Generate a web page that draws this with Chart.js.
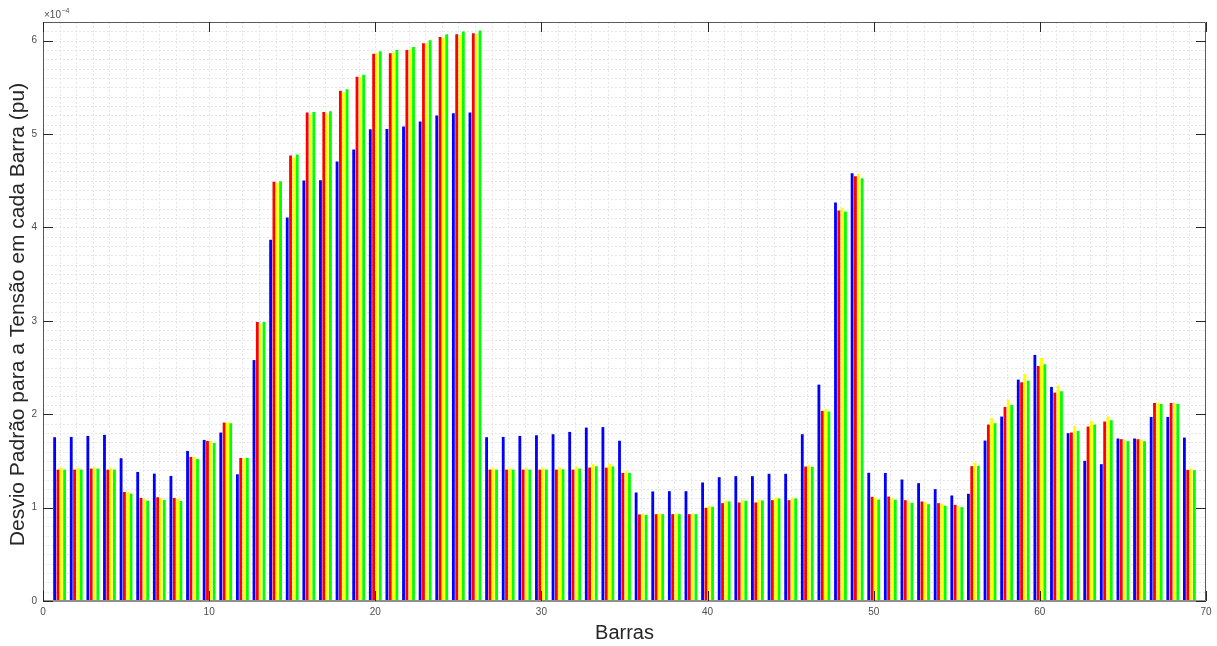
<!DOCTYPE html>
<html>
<head>
<meta charset="utf-8">
<script src="https://cdn.jsdelivr.net/npm/chart.js@4/dist/chart.umd.min.js"></script>
<style>
  html, body { margin: 0; padding: 0; background: #ffffff; }
  #wrap { width: 1217px; height: 646px; }
</style>
</head>
<body>
<div id="wrap"><canvas id="c" width="1217" height="646"></canvas></div>
<script>
// Bus numbers (categories)
const barras = [1,2,3,4,5,6,7,8,9,10,11,12,13,14,15,16,17,18,19,20,21,22,23,24,25,26,27,28,29,30,
  31,32,33,34,35,36,37,38,39,40,41,42,43,44,45,46,47,48,49,50,51,52,53,54,55,56,57,58,59,60,
  61,62,63,64,65,66,67,68,69];

// Standard deviation values, in units of 1e-4 pu
const serieAzul = [1.754,1.757,1.768,1.779,1.529,1.382,1.364,1.339,1.607,1.725,1.804,1.357,2.58,3.868,4.107,4.503,4.506,4.706,4.834,5.052,
  5.055,5.08,5.134,5.198,5.223,5.23,1.754,1.757,1.768,1.775,1.786,1.811,1.857,1.862,1.716,1.162,1.173,1.176,1.176,1.269,
  1.326,1.337,1.337,1.362,1.362,1.786,2.317,4.267,4.581,1.373,1.371,1.301,1.262,1.198,1.13,1.148,1.718,1.975,2.371,2.635,
  2.292,1.797,1.501,1.465,1.74,1.74,1.971,1.971,1.75];
const serieVermelha = [1.407,1.407,1.418,1.407,1.168,1.104,1.111,1.104,1.543,1.714,1.911,1.532,2.987,4.489,4.77,5.23,5.237,5.465,5.615,5.861,
  5.865,5.90,5.972,6.04,6.068,6.079,1.407,1.407,1.407,1.407,1.407,1.407,1.429,1.428,1.372,0.927,0.930,0.930,0.930,0.998,
  1.048,1.055,1.055,1.08,1.08,1.44,2.036,4.182,4.549,1.116,1.119,1.080,1.066,1.048,1.03,1.444,1.889,2.078,2.342,2.517,
  2.232,1.804,1.868,1.922,1.733,1.733,2.121,2.121,1.405];
const serieAmarela = [1.425,1.425,1.432,1.425,1.168,1.096,1.104,1.096,1.543,1.714,1.914,1.532,2.97,4.475,4.752,5.212,5.22,5.45,5.61,5.868,
  5.872,5.907,5.975,6.032,6.061,6.072,1.421,1.421,1.425,1.425,1.429,1.443,1.468,1.47,1.39,0.934,0.938,0.938,0.938,1.02,
  1.073,1.084,1.084,1.109,1.109,1.455,2.053,4.21,4.574,1.105,1.105,1.07,1.059,1.041,1.02,1.483,1.957,2.157,2.431,2.602,
  2.307,1.872,1.925,1.975,1.725,1.729,2.121,2.121,1.419];
const serieVerde = [1.407,1.407,1.418,1.407,1.15,1.075,1.082,1.071,1.521,1.693,1.904,1.532,2.987,4.496,4.78,5.237,5.244,5.48,5.636,5.886,
  5.90,5.932,6.004,6.068,6.097,6.108,1.407,1.407,1.407,1.407,1.411,1.418,1.443,1.441,1.372,0.923,0.930,0.930,0.930,1.009,
  1.066,1.073,1.077,1.098,1.098,1.437,2.029,4.171,4.528,1.087,1.085,1.052,1.037,1.02,1.005,1.447,1.904,2.1,2.36,2.535,
  2.246,1.822,1.889,1.936,1.711,1.711,2.11,2.11,1.401];

const xTicks = [0,10,20,30,40,50,60,70];
const yTicks = [0,1,2,3,4,5,6];
const yExpoente = '\u22124';
const tituloX = 'Barras';
const tituloY = 'Desvio Padr\u00e3o para a Tens\u00e3o em cada Barra (pu)';

const toXY = arr => arr.map((v, i) => ({ x: barras[i], y: v }));

const AREA = { left: 43, right: 1206, top: 22, bottom: 601 };

const matlabAxes = {
  id: 'matlabAxes',
  beforeDatasetsDraw(chart) {
    const { ctx, chartArea: a, scales: { x, y } } = chart;
    ctx.save();
    ctx.lineWidth = 1;
    ctx.strokeStyle = '#e6e6e6';
    ctx.setLineDash([2, 2]);
    for (let v = 1; v < 70; v++) {
      const px = Math.round(x.getPixelForValue(v)) + 0.5;
      ctx.beginPath(); ctx.moveTo(px, a.top); ctx.lineTo(px, a.bottom); ctx.stroke();
    }
    for (let k = 1; k < 62; k++) {
      const py = Math.round(y.getPixelForValue(k / 10)) + 0.5;
      ctx.beginPath(); ctx.moveTo(a.left, py); ctx.lineTo(a.right, py); ctx.stroke();
    }
    ctx.restore();
  },
  afterDatasetsDraw(chart) {
    const { ctx, chartArea: a, scales: { x, y } } = chart;
    ctx.save();
    // box
    ctx.setLineDash([]);
    ctx.strokeStyle = '#5a5a5a';
    ctx.lineWidth = 1;
    ctx.beginPath();
    ctx.moveTo(a.left + 0.5, a.bottom); ctx.lineTo(a.left + 0.5, a.top + 0.5);
    ctx.lineTo(a.right - 0.5, a.top + 0.5); ctx.lineTo(a.right - 0.5, a.bottom);
    ctx.stroke();
    ctx.strokeStyle = '#8f8f8f';
    ctx.lineWidth = 2;
    ctx.beginPath(); ctx.moveTo(a.left, a.bottom); ctx.lineTo(a.right, a.bottom); ctx.stroke();
    // inward ticks
    ctx.strokeStyle = '#262626';
    ctx.lineWidth = 1;
    const tl = 10;
    xTicks.forEach(v => {
      const px = Math.round(x.getPixelForValue(v)) + 0.5;
      ctx.beginPath(); ctx.moveTo(px, a.bottom); ctx.lineTo(px, a.bottom - tl); ctx.stroke();
      ctx.beginPath(); ctx.moveTo(px, a.top); ctx.lineTo(px, a.top + tl); ctx.stroke();
    });
    yTicks.forEach(v => {
      const py = Math.round(y.getPixelForValue(v)) + 0.5;
      ctx.beginPath(); ctx.moveTo(a.left, py); ctx.lineTo(a.left + tl, py); ctx.stroke();
      ctx.beginPath(); ctx.moveTo(a.right, py); ctx.lineTo(a.right - tl, py); ctx.stroke();
    });
    // exponent label
    ctx.fillStyle = '#4d4d4d';
    ctx.textBaseline = 'alphabetic';
    ctx.textAlign = 'left';
    ctx.font = '10px "Liberation Sans", Arial, sans-serif';
    const base = '\u00d710';
    ctx.fillText(base, a.left + 1, a.top - 4);
    const w = ctx.measureText(base).width;
    ctx.font = '7px "Liberation Sans", Arial, sans-serif';
    ctx.fillText(yExpoente, a.left + 1 + w + 0.5, a.top - 9);
    // axis titles
    ctx.fillStyle = '#262626';
    ctx.font = '20px "Liberation Sans", Arial, sans-serif';
    ctx.textAlign = 'center';
    ctx.textBaseline = 'middle';
    ctx.fillText(tituloX, (a.left + a.right) / 2, 633);
    ctx.translate(18, (a.top + a.bottom) / 2 + 3);
    ctx.rotate(-Math.PI / 2);
    ctx.font = '21px "Liberation Sans", Arial, sans-serif';
    ctx.fillText(tituloY, 0, 0);
    ctx.restore();
  }
};

const ds = (label, arr, color) => ({
  label, data: toXY(arr), backgroundColor: color, borderColor: color, borderWidth: 0,
  categoryPercentage: 0.8, barPercentage: 0.85
});

new Chart(document.getElementById('c'), {
  type: 'bar',
  data: {
    datasets: [
      ds('Azul', serieAzul, '#0000ff'),
      ds('Vermelho', serieVermelha, '#ff0000'),
      ds('Amarelo', serieAmarela, '#ffff00'),
      ds('Verde', serieVerde, '#00ff00')
    ]
  },
  options: {
    responsive: false,
    animation: false,
    events: [],
    layout: { padding: { left: 0, right: 1217 - AREA.right, top: AREA.top, bottom: 0 } },
    plugins: { legend: { display: false }, tooltip: { enabled: false } },
    scales: {
      x: {
        type: 'linear', min: 0, max: 70, offset: false,
        grid: { display: false, drawTicks: false },
        border: { display: false },
        ticks: {
          stepSize: 10, autoSkip: false, maxRotation: 0, padding: 5, color: '#4d4d4d',
          font: { family: '"Liberation Sans", Arial, sans-serif', size: 10 },
          callback: v => String(v)
        },
        afterFit: s => { s.height = 646 - AREA.bottom; }
      },
      y: {
        type: 'linear', min: 0, max: 6.2,
        grid: { display: false, drawTicks: false },
        border: { display: false },
        ticks: {
          stepSize: 1, includeBounds: false, padding: 6, color: '#4d4d4d',
          font: { family: '"Liberation Sans", Arial, sans-serif', size: 10 },
          callback: v => (Number.isInteger(v) ? String(v) : '')
        },
        afterFit: s => { s.width = AREA.left; }
      }
    }
  },
  plugins: [matlabAxes]
});
</script>
</body>
</html>
